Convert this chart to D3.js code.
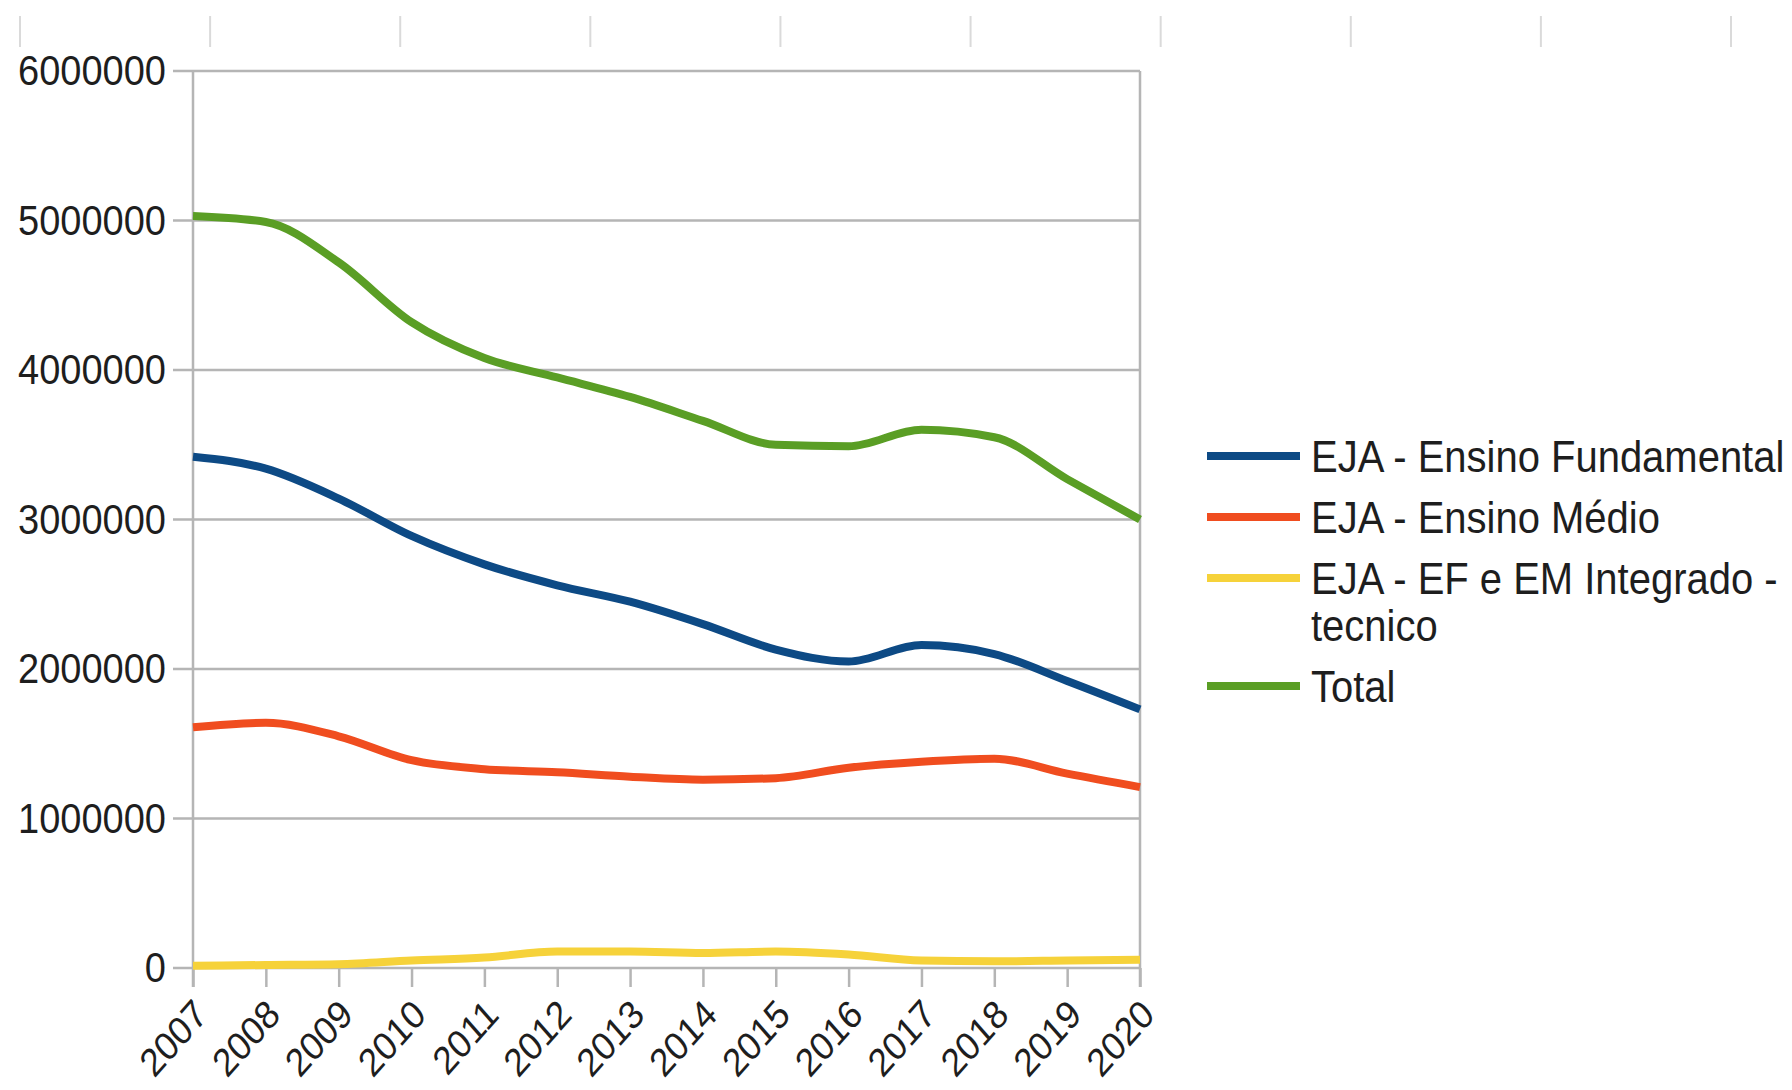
<!DOCTYPE html>
<html>
<head>
<meta charset="utf-8">
<script src="https://cdn.jsdelivr.net/npm/d3@7"></script>
<style>
  body { margin: 0; background: #fff; }
  svg { display: block; }
  text { font-family: "Liberation Sans", Arial, sans-serif; fill: #1e1e1e; }
</style>
</head>
<body>
<svg></svg>
<script>
let width = 1792, height = 1090

// values
let years = [2007, 2008, 2009, 2010, 2011, 2012, 2013, 2014, 2015, 2016, 2017, 2018, 2019, 2020]
let fundamental = [3420000, 3340000, 3140000, 2890000, 2700000, 2560000, 2450000, 2300000, 2130000, 2050000, 2160000, 2100000, 1920000, 1730000]
let medio = [1610000, 1640000, 1550000, 1390000, 1330000, 1310000, 1280000, 1260000, 1270000, 1340000, 1380000, 1400000, 1300000, 1210000]
let integrado = [15000, 20000, 25000, 50000, 70000, 110000, 110000, 100000, 110000, 90000, 50000, 45000, 50000, 55000]
let total = [5030000, 4990000, 4720000, 4320000, 4080000, 3950000, 3820000, 3660000, 3500000, 3490000, 3600000, 3550000, 3270000, 3000000]
let yTicks = [0, 1000000, 2000000, 3000000, 4000000, 5000000, 6000000]

let seriesNames = ["EJA - Ensino Fundamental", "EJA - Ensino Médio", "EJA - EF e EM Integrado - tecnico", "Total"]
let seriesColors = ["#0d4a85", "#f04d1f", "#f6d23a", "#5a9e25"]
let seriesValues = [fundamental, medio, integrado, total]

// the source picture is a little stretched vertically, text included
let stretch = 1.13

let svg = d3.select("svg").attr("width", width).attr("height", height)

let plotLeft = 193, plotRight = 1140, plotTop = 71, plotBottom = 968

let x = d3.scalePoint().domain(years).range([plotLeft, plotRight])
let y = d3.scaleLinear().domain([0, 6000000]).range([plotBottom, plotTop])

// faint ruler marks along the top edge
let ruler = d3.scaleLinear().domain([0, 9]).range([20, 1731])
svg.append("g").selectAll("line")
    .data(d3.range(10))
    .enter()
    .append("line")
    .attr("x1", d => ruler(d)).attr("x2", d => ruler(d))
    .attr("y1", 16).attr("y2", 47)
    .attr("stroke", "#dadada")
    .attr("stroke-width", 2)

// grid lines (including the short tick to the left)
svg.append("g").selectAll("line")
    .data(yTicks)
    .enter()
    .append("line")
    .attr("x1", plotLeft - 20).attr("x2", plotRight)
    .attr("y1", d => y(d)).attr("y2", d => y(d))
    .attr("stroke", "#b5b5b5")
    .attr("stroke-width", 2.5)

// y labels
let yAxis = svg.append("g")
    .attr("transform", `translate(${plotLeft - 20},0)`)
    .call(d3.axisLeft(y).tickValues(yTicks).tickSize(0).tickPadding(7).tickFormat(d3.format("d")))
yAxis.select(".domain").remove()
yAxis.selectAll("text")
    .style("font-size", "38px")
    .attr("fill", "#1e1e1e")
    .attr("transform", `scale(1,${stretch})`)

// x axis ticks + rotated labels
let xAxis = svg.append("g")
    .attr("transform", `translate(0,${plotBottom})`)
    .call(d3.axisBottom(x).tickSize(19).tickFormat(d => d))
xAxis.select(".domain").remove()
xAxis.selectAll("line").attr("stroke", "#b5b5b5").attr("stroke-width", 2.5)
xAxis.selectAll("text")
    .style("font-size", "35px")
    .attr("fill", "#1e1e1e")
    .attr("text-anchor", "end")
    .attr("x", 0)
    .attr("y", 0)
    .attr("dy", "0.35em")
    .attr("transform", `translate(7,39) scale(1,${stretch}) rotate(-45)`)

// plot frame left and right
svg.append("g").selectAll("line")
    .data([plotLeft, plotRight])
    .enter()
    .append("line")
    .attr("x1", d => d).attr("x2", d => d)
    .attr("y1", plotTop).attr("y2", plotBottom + 19)
    .attr("stroke", "#b5b5b5")
    .attr("stroke-width", 2.5)

// series lines
let line = d3.line()
    .x((d, i) => x(years[i]))
    .y(d => y(d))
    .curve(d3.curveMonotoneX)

svg.append("g").selectAll("path")
    .data(seriesValues)
    .enter()
    .append("path")
    .attr("d", line)
    .attr("fill", "none")
    .attr("stroke", (d, i) => seriesColors[i])
    .attr("stroke-width", 8)
    .attr("stroke-linejoin", "round")

// legend
let legend = svg.append("g")
let rowY = 456
let lineGap = 47
seriesNames.forEach((name, i) => {
    legend.append("line")
        .attr("x1", 1207).attr("x2", 1300)
        .attr("y1", rowY).attr("y2", rowY)
        .attr("stroke", seriesColors[i])
        .attr("stroke-width", 8)

    let label = legend.append("text")
        .attr("transform", `translate(1311,${rowY}) scale(1,${stretch})`)
        .style("font-size", "40px")

    // wrap words into lines no wider than the space left
    let words = name.split(" "), lines = [], current = ""
    words.forEach(w => {
        let test = current ? current + " " + w : w
        label.text(test)
        if (label.node().getComputedTextLength() > 478 && current) {
            lines.push(current)
            current = w
        } else {
            current = test
        }
    })
    lines.push(current)
    label.text(null)
    lines.forEach((l, j) => {
        label.append("tspan")
            .attr("x", 0)
            .attr("dy", j === 0 ? "0.35em" : (lineGap / stretch) + "px")
            .text(l)
    })

    rowY += 14 + lines.length * lineGap
})
</script>
</body>
</html>
